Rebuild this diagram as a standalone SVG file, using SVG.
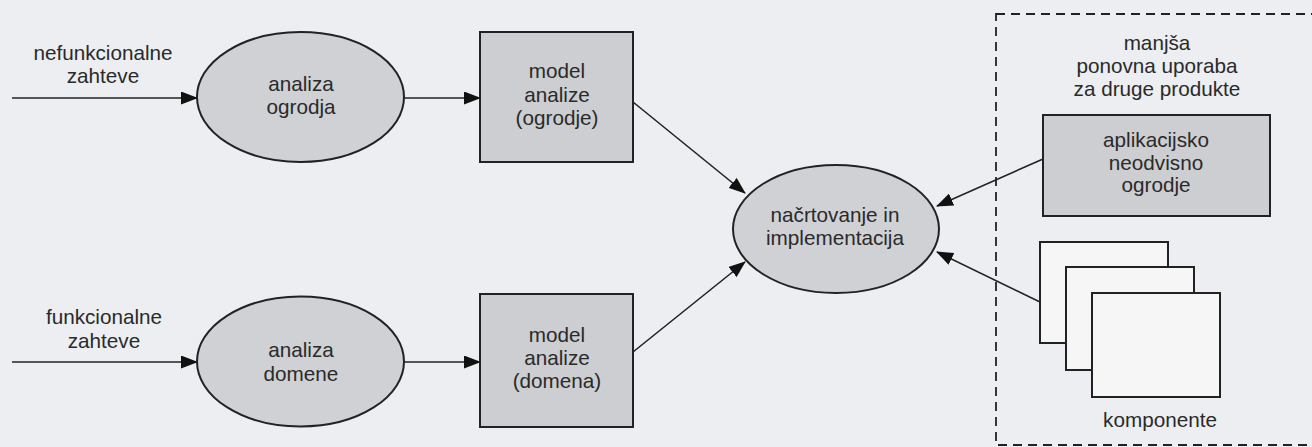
<svg xmlns="http://www.w3.org/2000/svg" width="1312" height="447" viewBox="0 0 1312 447">
<style>
text{font-family:"Liberation Sans",Arial,sans-serif;font-size:20.7px;fill:#2a2a2a;text-anchor:middle}
.proc{fill:#d0d1d4;stroke:#222;stroke-width:2}
.box{fill:#cdced1;stroke:#222;stroke-width:2}
.comp{fill:#f6f6f6;stroke:#222;stroke-width:2}
.conn{stroke:#222;stroke-width:1.6;fill:none;marker-end:url(#ah)}
.dash{fill:none;stroke:#222;stroke-width:1.8;stroke-dasharray:9 6}
</style>
<defs>
<marker id="ah" markerWidth="17" markerHeight="13" refX="16" refY="6.5" orient="auto" markerUnits="userSpaceOnUse">
<path d="M0,0 L17,6.5 L0,13 Z" fill="#111"/>
</marker>
</defs>
<rect x="0" y="0" width="1312" height="447" fill="#eceef1"/>
<g id="reuse-area">
<rect class="dash" x="996" y="14" width="330" height="431"/>
<text x="1157" y="50">manjša</text>
<text x="1157" y="73">ponovna uporaba</text>
<text x="1157" y="96">za druge produkte</text>
</g>
<g id="connectors">
<line class="conn" x1="12" y1="98" x2="197" y2="98"/>
<line class="conn" x1="404" y1="98" x2="480" y2="98"/>
<line class="conn" x1="12" y1="362" x2="197" y2="362"/>
<line class="conn" x1="404" y1="362" x2="480" y2="362"/>
<line class="conn" x1="633" y1="102" x2="745" y2="193"/>
<line class="conn" x1="633" y1="352" x2="745" y2="262"/>
<line class="conn" x1="1043" y1="159" x2="937" y2="206"/>
<line class="conn" x1="1040" y1="302" x2="937" y2="252"/>
</g>
<g id="label-nefunkcionalne">
<text x="103" y="60">nefunkcionalne</text>
<text x="103" y="83">zahteve</text>
</g>
<g id="label-funkcionalne">
<text x="104" y="324">funkcionalne</text>
<text x="104" y="348">zahteve</text>
</g>
<g id="analiza-ogrodja">
<ellipse class="proc" cx="300.5" cy="97" rx="103.5" ry="65"/>
<text x="301" y="91">analiza</text>
<text x="301" y="114">ogrodja</text>
</g>
<g id="analiza-domene">
<ellipse class="proc" cx="300.5" cy="361.5" rx="103.5" ry="65"/>
<text x="301" y="357">analiza</text>
<text x="301" y="381">domene</text>
</g>
<g id="model-ogrodje">
<rect class="box" x="480" y="32" width="153" height="130"/>
<text x="557" y="78">model</text>
<text x="557" y="102">analize</text>
<text x="557" y="125">(ogrodje)</text>
</g>
<g id="model-domena">
<rect class="box" x="480" y="294" width="153" height="133"/>
<text x="557" y="342">model</text>
<text x="557" y="365">analize</text>
<text x="557" y="388">(domena)</text>
</g>
<g id="nacrtovanje">
<ellipse class="proc" cx="836" cy="229" rx="103" ry="64"/>
<text x="835" y="222">načrtovanje in</text>
<text x="835" y="245">implementacija</text>
</g>
<g id="ogrodje">
<rect class="box" x="1043" y="115" width="227" height="101"/>
<text x="1156" y="147">aplikacijsko</text>
<text x="1156" y="170">neodvisno</text>
<text x="1156" y="192">ogrodje</text>
</g>
<g id="komponente">
<rect class="comp" x="1040" y="242" width="128" height="101"/>
<rect class="comp" x="1066" y="267" width="128" height="103"/>
<rect class="comp" x="1092" y="293" width="128" height="104"/>
<text x="1160" y="427">komponente</text>
</g>
</svg>
